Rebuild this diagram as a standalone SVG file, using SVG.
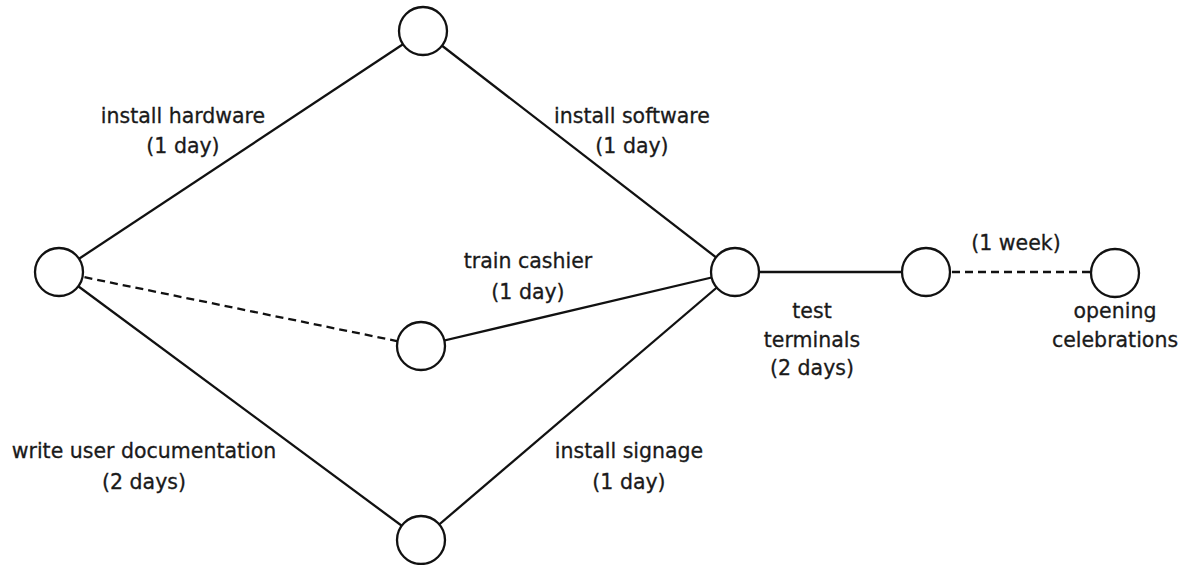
<svg xmlns="http://www.w3.org/2000/svg" width="1187" height="565" viewBox="0 0 1187 565">
<style>
.e{stroke:#111;stroke-width:2.3;fill:none}
.d{stroke-dasharray:8 5}
.n{fill:#fff;stroke:#111;stroke-width:2.3}
text{font-family:"DejaVu Sans",Verdana,sans-serif;font-size:20.5px;fill:#1a1a1a;stroke:#1a1a1a;stroke-width:0.3;text-anchor:middle}
</style>
<rect width="1187" height="565" fill="#fff"/>
<g id="connectors">
<line class="e" x1="59" y1="272" x2="423" y2="31"/>
<line class="e d" x1="59" y1="272" x2="421" y2="346"/>
<line class="e" x1="59" y1="272" x2="421" y2="540"/>
<line class="e" x1="423" y1="31" x2="735" y2="272"/>
<line class="e" x1="421" y1="346" x2="735" y2="272"/>
<line class="e" x1="421" y1="540" x2="735" y2="272"/>
<line class="e" x1="735" y1="272" x2="926" y2="272"/>
<line class="e d" x1="926" y1="272" x2="1115" y2="272"/>
</g>
<g id="labels">
<text x="183" y="123">install hardware</text>
<text x="183" y="153">(1 day)</text>
<text x="632" y="123">install software</text>
<text x="632" y="153">(1 day)</text>
<text x="528" y="268">train cashier</text>
<text x="528" y="299">(1 day)</text>
<text x="144" y="458">write user documentation</text>
<text x="144" y="489">(2 days)</text>
<text x="629" y="458">install signage</text>
<text x="629" y="489">(1 day)</text>
<text x="812" y="318">test</text>
<text x="812" y="347">terminals</text>
<text x="812" y="375">(2 days)</text>
<text x="1016" y="250">(1 week)</text>
</g>
<g id="n1"><circle class="n" cx="59" cy="272" r="24"/></g>
<g id="n2"><circle class="n" cx="423" cy="31" r="24"/></g>
<g id="n3"><circle class="n" cx="421" cy="346" r="24"/></g>
<g id="n4"><circle class="n" cx="421" cy="540" r="24"/></g>
<g id="n5"><circle class="n" cx="735" cy="272" r="24"/></g>
<g id="n6"><circle class="n" cx="926" cy="272" r="24"/></g>
<g id="n7"><circle class="n" cx="1115" cy="273" r="24"/>
<text x="1115" y="318">opening</text>
<text x="1115" y="347">celebrations</text></g>
</svg>
